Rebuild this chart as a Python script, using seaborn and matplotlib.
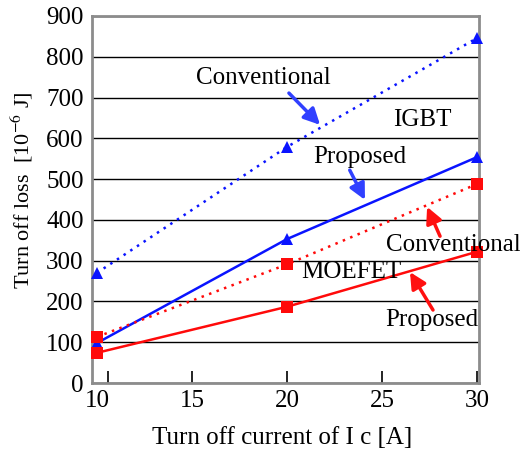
import matplotlib
matplotlib.use("Agg")
import matplotlib.pyplot as plt
import seaborn as sns
import pandas as pd

current = [10, 20, 30]
igbt_conv = [270, 579, 846]
igbt_prop = [98, 353, 554]
mos_conv = [113, 291, 488]
mos_prop = [74, 187, 322]
x_ticks = [10, 15, 20, 25, 30]
y_ticks = [0, 100, 200, 300, 400, 500, 600, 700, 800, 900]

sns.set_theme(style="white")
plt.rcParams['font.family'] = ['Liberation Serif', 'DejaVu Serif']
plt.rcParams['mathtext.fontset'] = 'stix'

fig = plt.figure(figsize=(5.2, 4.51), dpi=100)
ax = fig.add_axes([92/520, 1-383/451, (479-92)/520, (383-16)/451])

BLUE = '#0a14ff'
RED = '#ff0a0a'

series = [
    (igbt_conv, BLUE, (0, (1, 2.2)), '^'),
    (igbt_prop, BLUE, '-', '^'),
    (mos_conv, RED, (0, (1, 2.2)), 's'),
    (mos_prop, RED, '-', 's'),
]
for vals, col, ls, mk in series:
    df = pd.DataFrame({'x': current, 'y': vals})
    sns.lineplot(data=df, x='x', y='y', ax=ax, color=col, linestyle=ls, lw=1.8,
                 marker=mk, markersize=9, markeredgewidth=0, markerfacecolor=col,
                 clip_on=False, zorder=3)

ax.set_xlim(9.74, 30.1)
ax.set_ylim(0, 900)
ax.set_yticks(y_ticks)
ax.set_xticks(x_ticks)
ax.set_xticks([10.58], minor=True)
ax.tick_params(axis='x', which='both', direction='in', length=9, width=1.2,
               color='black', bottom=True, labelsize=18, pad=5)
ax.xaxis.get_major_ticks()[0].tick1line.set_visible(False)
ax.tick_params(axis='y', length=0, labelsize=18, pad=6)
for t in ax.get_xticklabels() + ax.get_yticklabels():
    t.set_color('black')
ax.yaxis.grid(True, color='black', lw=1)
ax.set_axisbelow(True)
for s in ax.spines.values():
    s.set_color('#8c8c8c')
    s.set_linewidth(2)
    s.set_visible(True)

ax.set_xlabel('Turn off current of I c [A]', fontsize=18, color='black', va='center')
ax.set_ylabel('Turn off loss  [10$^{-6}$ J]', fontsize=16, color='black', va='center')
ax.xaxis.set_label_coords(0.49, -0.15)
ax.yaxis.set_label_coords(-0.181, 0.525)

fs = 18
ARB = '#3040ff'
ARR = '#ff1010'
def ann(xy_text, xy_tip, col):
    ax.annotate('', xy=xy_tip, xytext=xy_text,
                arrowprops=dict(arrowstyle='-|>', color=col, lw=2.5, mutation_scale=24,
                                shrinkA=0, shrinkB=0))

ax.text(18.74, 748, 'Conventional', fontsize=fs, ha='center', va='center', color='black')
ann((20.1, 711), (21.74, 633), ARB)
ax.text(27.1, 645, 'IGBT', fontsize=fs, ha='center', va='center', color='black')
ax.text(23.84, 554, 'Proposed', fontsize=fs, ha='center', va='center', color='black')
ann((23.3, 522), (24.1, 449), ARB)
ax.text(28.74, 338, 'Conventional', fontsize=fs, ha='center', va='center', color='black', clip_on=False)
ann((28.05, 360), (27.37, 432), ARR)
ax.text(23.37, 272, 'MOEFET', fontsize=fs, ha='center', va='center', color='black')
ax.text(27.63, 155, 'Proposed', fontsize=fs, ha='center', va='center', color='black')
ann((27.68, 179), (26.47, 272), ARR)

fig.savefig('out.png', dpi=100)
